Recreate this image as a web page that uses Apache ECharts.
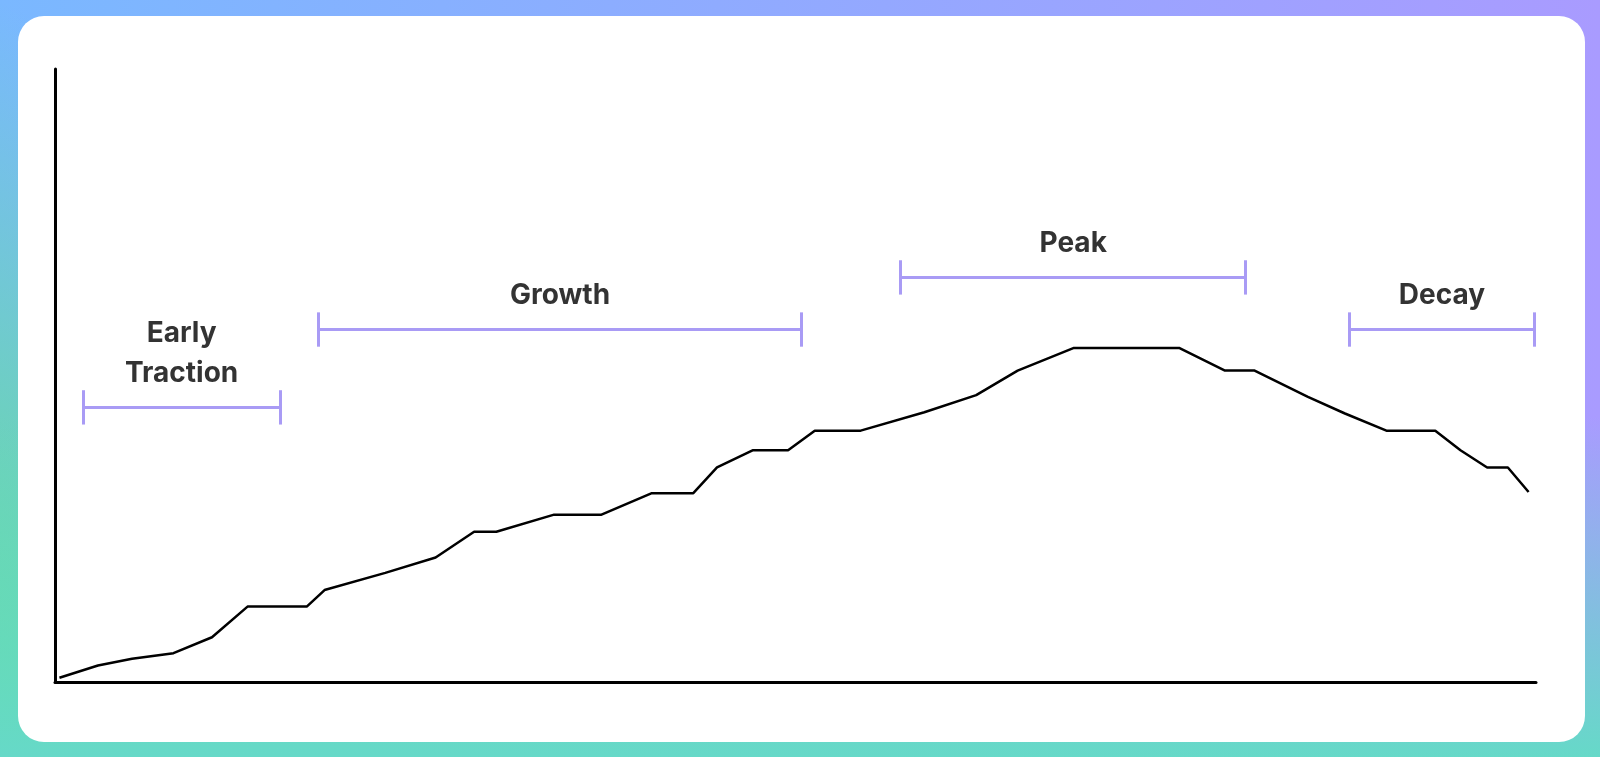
<!DOCTYPE html>
<html>
<head>
<meta charset="utf-8">
<script src="https://cdn.jsdelivr.net/npm/echarts@6/dist/echarts.min.js"></script>
<style>
  html, body { margin: 0; padding: 0; width: 1600px; height: 757px; overflow: hidden; }
  body { background: linear-gradient(135deg, #7ab8ff 0%, #6cc8ff 30%, #a79dff 100%); position: relative; }
  #frame { position: absolute; left: 0; top: 0; width: 1600px; height: 757px;
    background: linear-gradient(to bottom, rgba(0,0,0,0) 0%, rgba(0,0,0,0) 40%, rgba(0,0,0,0) 100%); }
  #bgfix { position: absolute; inset: 0;
    background: linear-gradient(to top right, #62e38e 0%, rgba(98,227,142,0) 50%),
                linear-gradient(to right, #7ab8ff, #a99bff); z-index: 0; }
  #bgfix2 { position: absolute; inset: 0; background: linear-gradient(to top, #66d9c8 0%, rgba(102,217,200,0) 45%); z-index: 0; }
  #panel { position: absolute; left: 18px; top: 16px; width: 1567px; height: 726px; background: #fff; border-radius: 26px; z-index: 1; }
  #chart { position: absolute; left: 0; top: 0; width: 1600px; height: 757px; z-index: 2; }
</style>
</head>
<body>
<div id="bgfix"></div>
<div id="bgfix2"></div>
<div id="panel"></div>
<div id="chart"></div>
<script>
// lifecycle curve (time 0..100, level 0..100)
var timeVals = [0.3, 2.9, 5.2, 8.0, 10.6, 13.0, 17.0, 18.2, 22.3, 25.7, 28.3, 29.8, 33.7, 36.9, 40.3, 43.1, 44.7, 47.1, 49.5, 51.3, 54.4, 58.7, 62.2, 65.0, 68.8, 75.9, 79.0, 81.0, 84.6, 87.1, 89.9, 93.2, 94.9, 96.7, 98.1, 99.5];
var levelVals = [0.7, 2.7, 3.8, 4.7, 7.3, 12.3, 12.3, 15.0, 17.8, 20.3, 24.5, 24.5, 27.3, 27.3, 30.8, 30.8, 35.0, 37.8, 37.8, 41.0, 41.0, 44.0, 46.8, 50.8, 54.5, 54.5, 50.8, 50.8, 46.5, 43.8, 41.0, 41.0, 37.8, 35.0, 35.0, 31.0];

// phase brackets
var phaseNames = ['Early\nTraction', 'Growth', 'Peak', 'Decay'];
var phaseStart = [1.9, 17.8, 57.1, 87.4];
var phaseEnd = [15.2, 50.4, 80.4, 99.9];
var phaseLevel = [44.8, 57.5, 66.0, 57.5];

var chart = echarts.init(document.getElementById('chart'));

var lineData = [];
for (var i = 0; i < timeVals.length; i++) {
    lineData.push([timeVals[i], levelVals[i]]);
}

var tick = 2.8;
var bracketLines = [];
for (var j = 0; j < phaseNames.length; j++) {
    var s = phaseStart[j], e = phaseEnd[j], y = phaseLevel[j];
    bracketLines.push([{coord: [s, y], name: phaseNames[j]}, {coord: [e, y]}]);
    bracketLines.push([{coord: [s, y - tick], label: {show: false}}, {coord: [s, y + tick]}]);
    bracketLines.push([{coord: [e, y - tick], label: {show: false}}, {coord: [e, y + tick]}]);
}

var option = {
    animation: false,
    grid: { left: 55, right: 64, top: 69, bottom: 75 },
    xAxis: {
        type: 'value', min: 0, max: 100,
        axisLine: { show: true, onZero: false, lineStyle: { color: '#000', width: 3 } },
        axisTick: { show: false }, axisLabel: { show: false }, splitLine: { show: false }
    },
    yAxis: {
        type: 'value', min: 0, max: 100,
        axisLine: { show: true, lineStyle: { color: '#000', width: 3 } },
        axisTick: { show: false }, axisLabel: { show: false }, splitLine: { show: false }
    },
    series: [
        {
            type: 'line',
            data: lineData,
            showSymbol: false,
            lineStyle: { color: '#000', width: 2.5 },
            markLine: {
                silent: true,
                symbol: ['none', 'none'],
                lineStyle: { color: '#a99bf5', width: 3, type: 'solid' },
                label: {
                    show: true,
                    position: 'middle',
                    formatter: '{b}',
                    distance: 14,
                    color: '#333',
                    fontSize: 28,
                    fontWeight: 'bold',
                    lineHeight: 40,
                    fontFamily: 'Inter, sans-serif'
                },
                data: bracketLines
            }
        }
    ]
};

chart.setOption(option);
</script>
</body>
</html>
